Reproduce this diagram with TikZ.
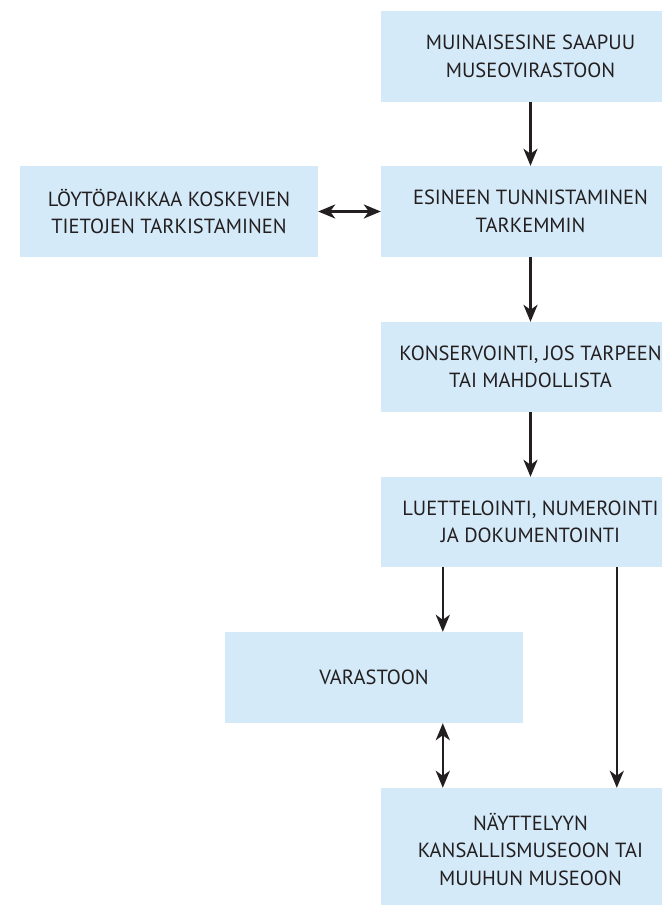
\documentclass[tikz,border=0pt]{standalone}
\usepackage{fontspec}
\setmainfont{PT Sans}
\usetikzlibrary{arrows.meta}
\definecolor{boxfill}{HTML}{D4EAF8}
\definecolor{ink}{HTML}{231F20}
\tikzset{
  box/.style={fill=boxfill, draw=none, text=ink, align=center, inner sep=0pt,
    font=\fontsize{20.5}{27.5}\selectfont},
  tip/.style={Stealth[length=17pt,width=14pt,inset=5pt]},
  conn/.style={draw=ink, line width=2.6pt, -{Stealth[length=17pt,width=14pt,inset=5pt]}},
  bconn/.style={draw=ink, line width=2.6pt, {Stealth[length=17pt,width=14pt,inset=5pt]}-{Stealth[length=17pt,width=14pt,inset=5pt]}}
}
\begin{document}
\begin{tikzpicture}[x=1pt,y=-1pt]
\useasboundingbox (0,0) rectangle (662,905);
\clip (0,0) rectangle (662,905);
\node[box, minimum width=299pt, minimum height=91pt] (n1) at (530.5,56.5) {MUINAISESINE SAAPUU\\MUSEOVIRASTOON};
\node[box, minimum width=299pt, minimum height=91pt] (n2) at (530.5,211.5) {ESINEEN TUNNISTAMINEN\\TARKEMMIN};
\node[box, minimum width=298pt, minimum height=91pt] (nL) at (169,211.5) {LÖYTÖPAIKKAA KOSKEVIEN\\TIETOJEN TARKISTAMINEN};
\node[box, minimum width=299pt, minimum height=90pt] (n3) at (530.5,367) {KONSERVOINTI, JOS TARPEEN\\TAI MAHDOLLISTA};
\node[box, minimum width=299pt, minimum height=90pt] (n4) at (530.5,522) {LUETTELOINTI, NUMEROINTI\\JA DOKUMENTOINTI};
\node[box, minimum width=298pt, minimum height=91pt] (nV) at (374,677.5) {VARASTOON};
\node[box, minimum width=299pt, minimum height=122pt] (n5) at (530.5,849) {NÄYTTELYYN\\KANSALLISMUSEOON TAI\\MUUHUN MUSEOON};
\draw[conn] (n1.south) -- (n2.north);
\draw[conn] (n2.south) -- (n3.north);
\draw[conn] (n3.south) -- (n4.north);
\draw[bconn] (nL.east) -- (n2.west);
\draw[conn] ([xshift=62pt]n4.south west) -- ([xshift=62pt]n4.south west |- nV.north);
\draw[bconn] ([xshift=62pt]n4.south west |- nV.south) -- ([xshift=62pt]n4.south west |- n5.north);
\draw[conn] ([xshift=236pt]n4.south west) -- ([xshift=236pt]n4.south west |- n5.north);
\end{tikzpicture}
\end{document}
